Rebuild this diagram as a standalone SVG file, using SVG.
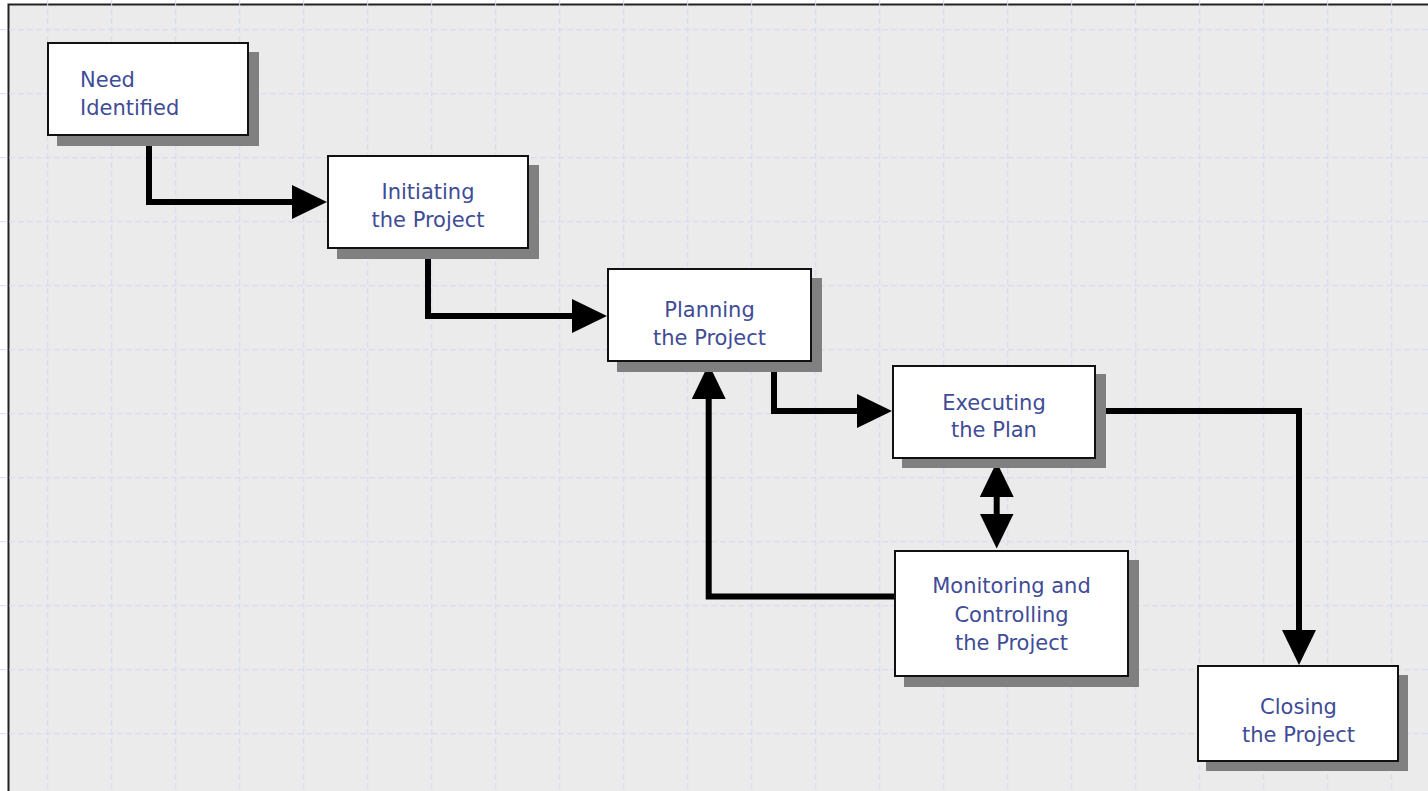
<svg xmlns="http://www.w3.org/2000/svg" width="1428" height="791" viewBox="0 0 1428 791">
  <style>
    .grid { fill: none; stroke: #d6dbf3; stroke-width: 1; stroke-dasharray: 6 3; }
    .shadow { fill: #808080; }
    .box { fill: #ffffff; stroke: #111111; stroke-width: 2; }
    .label { font-family: "DejaVu Sans", Verdana, sans-serif; font-size: 21px; fill: #404c96; }
    .mid { text-anchor: middle; }
    .wire { fill: none; stroke: #000000; stroke-width: 6; }
  </style>
  <defs>
    <marker id="head" markerUnits="userSpaceOnUse" markerWidth="35" markerHeight="34" viewBox="0 0 35 34" refX="1" refY="17" orient="auto-start-reverse">
      <path d="M0,0 L35,17 L0,34 Z" fill="#000000"/>
    </marker>
  </defs>

  <!-- page and sheet -->
  <rect x="0" y="0" width="1428" height="791" fill="#ffffff"/>
  <rect x="8.5" y="4.5" width="1430" height="800" fill="#ebebeb" stroke="#222222" stroke-width="2"/>

  <!-- dashed layout grid -->
  <path class="grid" d="M47.7,0V791 M111.7,0V791 M175.7,0V791 M239.7,0V791 M303.7,0V791 M367.7,0V791 M431.7,0V791 M495.7,0V791 M559.7,0V791 M623.7,0V791 M687.7,0V791 M751.7,0V791 M815.7,0V791 M879.7,0V791 M943.7,0V791 M1007.7,0V791 M1071.7,0V791 M1135.7,0V791 M1199.7,0V791 M1263.7,0V791 M1327.7,0V791 M1391.7,0V791"/>
  <path class="grid" d="M0,29.7H1428 M0,93.7H1428 M0,157.7H1428 M0,221.7H1428 M0,285.7H1428 M0,349.7H1428 M0,413.7H1428 M0,477.7H1428 M0,541.7H1428 M0,605.7H1428 M0,669.7H1428 M0,733.7H1428"/>

  <!-- connectors -->
  <g id="connectors">
    <path class="wire" d="M149,136 V202 H293" marker-end="url(#head)"/>
    <path class="wire" d="M428,249 V316 H573" marker-end="url(#head)"/>
    <path class="wire" d="M774,362 V411 H858" marker-end="url(#head)"/>
    <path class="wire" d="M1096,411 H1299 V631" marker-end="url(#head)"/>
    <path class="wire" d="M894,596.5 H708.7 V398" marker-end="url(#head)"/>
    <path class="wire" d="M996.7,496 V514.5" marker-start="url(#head)" marker-end="url(#head)"/>
  </g>

  <!-- process steps -->
  <g id="need-identified">
    <rect class="shadow" x="57" y="52" width="202" height="94"/>
    <rect class="box" x="48" y="43" width="200" height="92"/>
    <text class="label" x="80" y="87">Need</text>
    <text class="label" x="80" y="115">Identified</text>
  </g>

  <g id="initiating">
    <rect class="shadow" x="337" y="165" width="202" height="94"/>
    <rect class="box" x="328" y="156" width="200" height="92"/>
    <text class="label mid" x="428" y="199">Initiating</text>
    <text class="label mid" x="428" y="227">the Project</text>
  </g>

  <g id="planning">
    <rect class="shadow" x="617" y="278" width="205" height="94"/>
    <rect class="box" x="608" y="269" width="203" height="92"/>
    <text class="label mid" x="709.5" y="317">Planning</text>
    <text class="label mid" x="709.5" y="345">the Project</text>
  </g>

  <g id="executing">
    <rect class="shadow" x="902" y="374" width="204" height="94"/>
    <rect class="box" x="893" y="366" width="202" height="92"/>
    <text class="label mid" x="994" y="410">Executing</text>
    <text class="label mid" x="994" y="437">the Plan</text>
  </g>

  <g id="monitoring">
    <rect class="shadow" x="904" y="560" width="235" height="127"/>
    <rect class="box" x="895" y="551" width="233" height="125"/>
    <text class="label mid" x="1011.5" y="593">Monitoring and</text>
    <text class="label mid" x="1011.5" y="621.5">Controlling</text>
    <text class="label mid" x="1011.5" y="650">the Project</text>
  </g>

  <g id="closing">
    <rect class="shadow" x="1206" y="675" width="202" height="96"/>
    <rect class="box" x="1198" y="666" width="200" height="95"/>
    <text class="label mid" x="1298.5" y="714">Closing</text>
    <text class="label mid" x="1298.5" y="742">the Project</text>
  </g>
</svg>
